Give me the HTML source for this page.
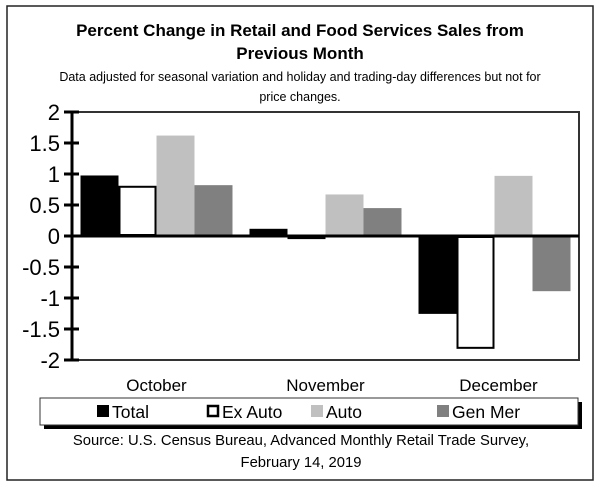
<!DOCTYPE html>
<html><head><meta charset="utf-8"><style>
body{margin:0;background:#fff;width:600px;height:489px;overflow:hidden}
svg{display:block}
text{font-family:"Liberation Sans",Arial,sans-serif;fill:#000}
</style></head><body>
<svg id="c" width="600" height="489">
<rect x="7" y="6" width="586" height="474" fill="#fff" stroke="#222" stroke-width="1.5"/>
<text x="300" y="36" text-anchor="middle" font-size="17" font-weight="bold">Percent Change in Retail and Food Services Sales from</text>
<text x="300" y="59" text-anchor="middle" font-size="17" font-weight="bold">Previous Month</text>
<text x="300" y="81" text-anchor="middle" font-size="12.5">Data adjusted for seasonal variation and holiday and trading-day differences but not for</text>
<text x="300" y="101" text-anchor="middle" font-size="12.5">price changes.</text>
<g id="plot"></g>
<rect x="44" y="402" width="538" height="27" fill="#000"/>
<rect x="40" y="398" width="538" height="27" fill="#fff" stroke="#333" stroke-width="1"/>
<g id="leg"></g>
<text x="301" y="445" text-anchor="middle" font-size="14.8">Source: U.S. Census Bureau, Advanced Monthly Retail Trade Survey,</text>
<text x="301" y="467" text-anchor="middle" font-size="14.8">February 14, 2019</text>
</svg>
<script>
const categories=["October","November","December"];
const seriesNames=["Total","Ex Auto","Auto","Gen Mer"];
const total=[0.96,0.1,-1.24];
const exAuto=[0.81,-0.05,-1.82];
const auto=[1.62,0.67,0.97];
const genMer=[0.82,0.45,-0.89];
const yTicks=[2,1.5,1,0.5,0,-0.5,-1,-1.5,-2];
const tickLabels=["2","1.5","1","0.5","0","-0.5","-1","-1.5","-2"];
const series=[total,exAuto,auto,genMer];
const fills=["#000","#fff","#c0c0c0","#808080"];
const strokes=["#000","#000","none","none"];
const L=72,R=579,T=112,B=360,ymin=-2,ymax=2;
const y=v=>T+(ymax-v)/(ymax-ymin)*(B-T);
const band=(R-L)/categories.length, bw=38;
const x=(c,s)=>L+band*c+band/2-bw*2+bw*s;
const ns="http://www.w3.org/2000/svg";
const plot=document.getElementById('plot');
function mk(t,a,p){const e=document.createElementNS(ns,t);for(const k in a)e.setAttribute(k,a[k]);(p||plot).appendChild(e);return e;}
const pa=mk('rect',{x:L,y:T,width:R-L,height:B-T,fill:'#fff',stroke:'#333','stroke-width':2});


series.forEach((arr,s)=>arr.forEach((v,c)=>{
  const y0=y(Math.max(v,0)),h=Math.abs(y(v)-y(0));
  const sw=strokes[s]=="none"?0:2;
  const r=mk('rect',{x:x(c,s)+sw/2,y:y0+(s==1?sw/2:0),width:bw-sw,height:Math.max(h-(s==1?sw:0),1),fill:fills[s],stroke:strokes[s],'stroke-width':sw});
  
  
}));
const zl=mk('line',{x1:L,x2:R,y1:y(0),y2:y(0),stroke:'#000','stroke-width':3});


const ax=mk('line',{x1:L,x2:L,y1:T,y2:B,stroke:'#000','stroke-width':3});


yTicks.forEach((v,i)=>{
  const tk=mk('line',{x1:L-8,x2:L+7,y1:y(v),y2:y(v),stroke:'#000','stroke-width':3});
  
  
  const t=mk('text',{x:L-12,y:y(v)+8,'text-anchor':'end','font-size':22});
  t.textContent=tickLabels[i];
  
  
});
categories.forEach((n,c)=>{
  const t=mk('text',{x:L+band*c+band/2+(c==2?4:0),y:391,'text-anchor':'middle','font-size':17});
  t.textContent=n;
  
  
});
const leg=document.getElementById('leg');
const lx=[97,207,311,437];
seriesNames.forEach((n,s)=>{
  const g=mk('g',{},leg);
  
  
  mk('rect',{x:lx[s]+(s==1?1:0),y:405+(s==1?1:0),width:s==1?10:12,height:s==1?10:12,fill:fills[s],stroke:strokes[s],'stroke-width':s==1?2.5:0},g);
  const t=mk('text',{x:lx[s]+15,y:418,'font-size':17.5},g);
  t.textContent=n;
});
</script>
</body></html>
